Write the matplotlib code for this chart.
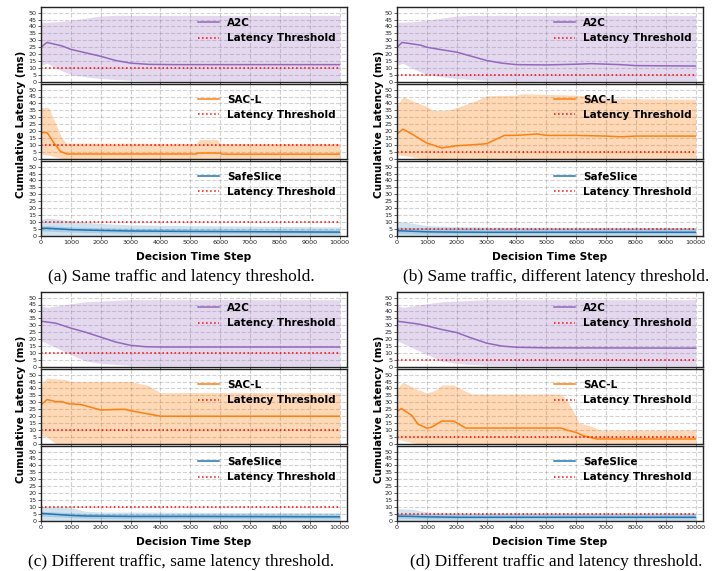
import numpy as np
import matplotlib
matplotlib.use("Agg")
import matplotlib.pyplot as plt

# ---- data ----
thresholds = [10, 5, 10, 5]
captions = ["(a) Same traffic and latency threshold.",
            "(b) Same traffic, different latency threshold.",
            "(c) Different traffic, same latency threshold.",
            "(d) Different traffic and latency threshold."]

# A2C
a_a2c_x = [0, 200, 700, 1000, 1500, 2000, 2500, 3000, 3600, 4500, 10000]
a_a2c = [25, 28.5, 26, 23.5, 21, 18.5, 15.5, 13.6, 12.7, 12.5, 12.5]
b_a2c_x = [0, 170, 800, 1000, 1500, 2000, 2500, 3000, 3500, 4000, 5000, 6000, 6500, 7500, 8000, 10000]
b_a2c = [25, 28.5, 26.5, 25, 23.2, 21.5, 18.5, 15.5, 13.6, 12.5, 12.3, 12.8, 13.2, 12.5, 11.8, 11.5]
c_a2c_x = [0, 500, 1000, 1500, 2000, 2500, 3000, 3500, 4000, 10000]
c_a2c = [33, 31.5, 28, 25, 21.5, 18, 15.6, 14.6, 14.4, 14.4]
d_a2c_x = [0, 700, 1000, 1500, 2000, 2500, 3000, 3500, 4000, 5000, 10000]
d_a2c = [33, 31, 29.6, 27, 24.8, 20.8, 17.2, 15.1, 14.2, 13.8, 13.6]

ab_a2c_band_x = [0, 200, 600, 1000, 1500, 2000, 2500, 3000, 4000, 10000]
ab_a2c_hi = [43, 43, 43.5, 44.5, 46, 47.5, 48, 48, 48, 48]
ab_a2c_lo = [12, 13.5, 9, 5.3, 3.8, 2.5, 1.8, 1.2, 0.6, 0.5]
cd_a2c_band_x = [0, 200, 1000, 1500, 2000, 2500, 3000, 4000, 10000]
cd_a2c_hi = [44, 43, 45.5, 47, 47.5, 48, 48.5, 48.5, 48.5]
cd_a2c_lo = [19, 17, 9, 4.3, 2.6, 1.8, 1.2, 1, 0.8]

# SAC-L
a_sac_x = [0, 200, 300, 420, 650, 870, 5200, 5250, 6000, 6050, 10000]
a_sac = [19, 19, 16, 12, 5.5, 3.6, 3.6, 4.3, 4.3, 3.5, 3.5]
a_sac_band_x = [0, 250, 300, 700, 850, 5200, 5300, 5900, 6000, 10000]
a_sac_hi = [37, 37, 35, 15, 11.5, 11.2, 14, 14, 11.2, 11.2]
a_sac_lo = [3.5, 2.7, 2.5, 0.3, 0.3, 0.3, 0.3, 0.3, 0.3, 0.3]

b_sac_x = [0, 200, 500, 800, 1000, 1500, 2000, 2500, 3000, 3300, 3600, 4000, 4700, 5000, 6000, 7000, 7500, 8000, 10000]
b_sac = [18, 21.5, 18, 14, 11.5, 8, 9.5, 10.2, 11, 14, 17, 17, 18, 17, 17, 16.5, 16, 16.5, 16.5]
b_sac_band_x = [0, 200, 400, 600, 800, 1000, 1200, 1700, 2000, 2700, 3000, 4000, 4200, 5000, 6000, 7000, 10000]
b_sac_hi = [38, 45, 43, 41, 39.5, 38, 35, 35, 37, 42.5, 45.5, 46, 47, 46.5, 46, 43.5, 43]
b_sac_lo = [3, 2.5, 2, 1, 0.2, 0.2, 0.2, 0.2, 0.2, 0.2, 0.2, 0.2, 0.2, 0.2, 0.2, 0.2, 0.2]

c_sac_x = [0, 200, 500, 700, 900, 1300, 1500, 2000, 2800, 3000, 3500, 4000, 10000]
c_sac = [28, 32, 30.5, 30.5, 29, 28.5, 27.5, 24.5, 25, 24, 22, 20, 20]
c_sac_band_x = [0, 200, 500, 800, 1000, 3000, 3600, 4000, 10000]
c_sac_hi = [42.5, 47.5, 47, 46.5, 45, 45, 42, 37, 37]
c_sac_lo = [6, 5, 0, 0, 0, 0, 0, 0, 0]

d_sac_x = [0, 150, 500, 700, 1000, 1150, 1500, 1900, 2300, 5500, 5730, 6000, 6240, 6700, 10000]
d_sac = [23.5, 25.5, 20.5, 14.3, 11.4, 12, 16.5, 16.5, 11.5, 11.5, 9.8, 8.3, 6, 3.6, 3.6]
d_sac_band_x = [0, 200, 600, 700, 800, 1000, 1300, 1500, 1900, 2300, 2500, 5500, 5700, 5900, 6100, 6400, 6600, 6800, 10000]
d_sac_hi = [40, 44.5, 40, 39, 38.5, 36.5, 39, 42.5, 42.5, 38, 36, 36, 31, 24, 15, 13.5, 12, 10, 10]
d_sac_lo = [3.5, 2.5, 0.5, 0, 0, 0, 0, 0, 0, 0, 0, 0, 0, 0, 0, 0, 0, 0, 0]

# SafeSlice
a_safe_x = [0, 200, 1000, 2000, 3000, 5000, 8000, 10000]
a_safe = [5.5, 5.6, 4.6, 4, 3.6, 3.3, 3, 2.8]
a_safe_hi = [12, 13, 11, 9, 8, 7.5, 7, 6.5]
a_safe_in_hi = [7.5, 7.5, 6.5, 6, 5.5, 5.2, 5, 4.8]
a_safe_in_lo = [3.5, 3.5, 2.8, 2.3, 2, 1.8, 1.5, 1.3]

b_safe_x = [0, 300, 1000, 2000, 3000, 5000, 10000]
b_safe = [3.8, 3.6, 3, 2.8, 2.7, 2.7, 2.7]
b_safe_hi = [10, 10, 7.5, 6.8, 6.5, 6.3, 6.2]
b_safe_in_hi = [6.5, 6.3, 6.2, 6.1, 6, 6, 6]
b_safe_in_lo = [1.8, 1.6, 1.4, 1.4, 1.4, 1.4, 1.4]

c_safe_x = [0, 1000, 1500, 2000, 3000, 5000, 10000]
c_safe = [5.5, 4, 3.6, 3.5, 3.3, 3.3, 3]
c_safe_hi = [10.5, 9.5, 7, 6.5, 6.5, 6.3, 6]
c_safe_in_hi = [7, 6, 5.5, 5.3, 5.2, 5.2, 5]
c_safe_in_lo = [3.5, 2.5, 2, 1.8, 1.7, 1.7, 1.5]

d_safe_x = [0, 500, 1000, 2000, 10000]
d_safe = [3.5, 3.3, 3, 2.7, 2.7]
d_safe_hi = [9, 8.5, 6.5, 6, 6]
d_safe_in_hi = [5.5, 5.5, 5.3, 5.2, 5.2]
d_safe_in_lo = [1.8, 1.7, 1.5, 1.4, 1.4]

PURPLE = "#9467bd"
ORANGE = "#ff7f0e"
BLUE = "#1f77b4"

W, H = 722, 571
fig = plt.figure(figsize=(W / 100, H / 100), dpi=100)


def px_axes(left, top, width, height):
    return fig.add_axes([left / W, 1 - (top + height) / H, width / W, height / H])


def style(ax, bottom):
    ax.set_xlim(0, 10250)
    ax.set_ylim(0, 54)
    ax.set_xticks(np.arange(0, 10001, 1000))
    ax.set_yticks(np.arange(0, 51, 5))
    ax.grid(True, linestyle="--", color="gray", alpha=0.35, linewidth=0.8)
    ax.tick_params(labelsize=4.6, length=2, width=0.5, pad=1, colors="#222222")
    if not bottom:
        ax.tick_params(labelbottom=False)
    for s in ax.spines.values():
        s.set_linewidth(1.0)
        s.set_color("#222222")
    ax.set_axisbelow(True)


def legend(ax):
    return ax.legend(loc="upper right", prop={"weight": "bold", "size": 7.5},
                     frameon=False, handlelength=2.0, borderaxespad=0.65)


panels = [
    dict(left=41, top=7, a2c=(a_a2c_x, a_a2c), a2c_band=(ab_a2c_band_x, ab_a2c_lo, ab_a2c_hi),
         sac=(a_sac_x, a_sac), sac_band=(a_sac_band_x, a_sac_lo, a_sac_hi),
         safe=(a_safe_x, a_safe, a_safe_hi, a_safe_in_lo, a_safe_in_hi), cap_x=181, lab_x=21),
    dict(left=397, top=7, a2c=(b_a2c_x, b_a2c), a2c_band=(ab_a2c_band_x, ab_a2c_lo, ab_a2c_hi),
         sac=(b_sac_x, b_sac), sac_band=(b_sac_band_x, b_sac_lo, b_sac_hi),
         safe=(b_safe_x, b_safe, b_safe_hi, b_safe_in_lo, b_safe_in_hi), cap_x=556, lab_x=379),
    dict(left=41, top=292, a2c=(c_a2c_x, c_a2c), a2c_band=(cd_a2c_band_x, cd_a2c_lo, cd_a2c_hi),
         sac=(c_sac_x, c_sac), sac_band=(c_sac_band_x, c_sac_lo, c_sac_hi),
         safe=(c_safe_x, c_safe, c_safe_hi, c_safe_in_lo, c_safe_in_hi), cap_x=181, lab_x=21),
    dict(left=397, top=292, a2c=(d_a2c_x, d_a2c), a2c_band=(cd_a2c_band_x, cd_a2c_lo, cd_a2c_hi),
         sac=(d_sac_x, d_sac), sac_band=(d_sac_band_x, d_sac_lo, d_sac_hi),
         safe=(d_safe_x, d_safe, d_safe_hi, d_safe_in_lo, d_safe_in_hi), cap_x=556, lab_x=379),
]

AW, AH, STEP = 306, 75, 77

for i, p in enumerate(panels):
    thr = thresholds[i]
    ax1 = px_axes(p["left"], p["top"], AW, AH)
    ax2 = px_axes(p["left"], p["top"] + STEP, AW, AH)
    ax3 = px_axes(p["left"], p["top"] + 2 * STEP, AW, AH)

    # A2C
    bx, lo, hi = p["a2c_band"]
    ax1.fill_between(bx, lo, hi, color=PURPLE, alpha=0.25, linewidth=0)
    ax1.plot(*p["a2c"], color=PURPLE, lw=1.1, label="A2C")
    ax1.axhline(thr, xmax=10000 / 10250, color="red", ls=":", lw=1.1, label="Latency Threshold")
    style(ax1, False)
    legend(ax1)

    # SAC-L
    bx, lo, hi = p["sac_band"]
    ax2.fill_between(bx, lo, hi, color=ORANGE, alpha=0.3, linewidth=0)
    ax2.plot(*p["sac"], color=ORANGE, lw=1.1, label="SAC-L")
    ax2.axhline(thr, xmax=10000 / 10250, color="red", ls=":", lw=1.1, label="Latency Threshold")
    style(ax2, False)
    legend(ax2)

    # SafeSlice
    sx, sm, shi, slo2, shi2 = p["safe"]
    ax3.fill_between(sx, 0, shi, color=BLUE, alpha=0.2, linewidth=0)
    ax3.fill_between(sx, slo2, shi2, color=BLUE, alpha=0.2, linewidth=0)
    ax3.plot(sx, sm, color=BLUE, lw=1.1, label="SafeSlice")
    ax3.axhline(thr, xmax=10000 / 10250, color="red", ls=":", lw=1.1, label="Latency Threshold")
    style(ax3, True)
    legend(ax3)

    bottom = p["top"] + 2 * STEP + AH
    fig.text((p["left"] + AW / 2) / W, 1 - (bottom + 21) / H, "Decision Time Step",
             ha="center", va="center", fontsize=7.7, fontweight="bold")
    fig.text(p["lab_x"] / W, 1 - (p["top"] + 117) / H, "Cumulative Latency (ms)",
             ha="center", va="center", rotation=90, fontsize=7.6, fontweight="bold")
    fig.text(p["cap_x"] / W, 1 - (bottom + 41) / H, captions[i],
             ha="center", va="center", fontsize=12.5, family="Liberation Serif")

fig.savefig("out.png", dpi=100)
